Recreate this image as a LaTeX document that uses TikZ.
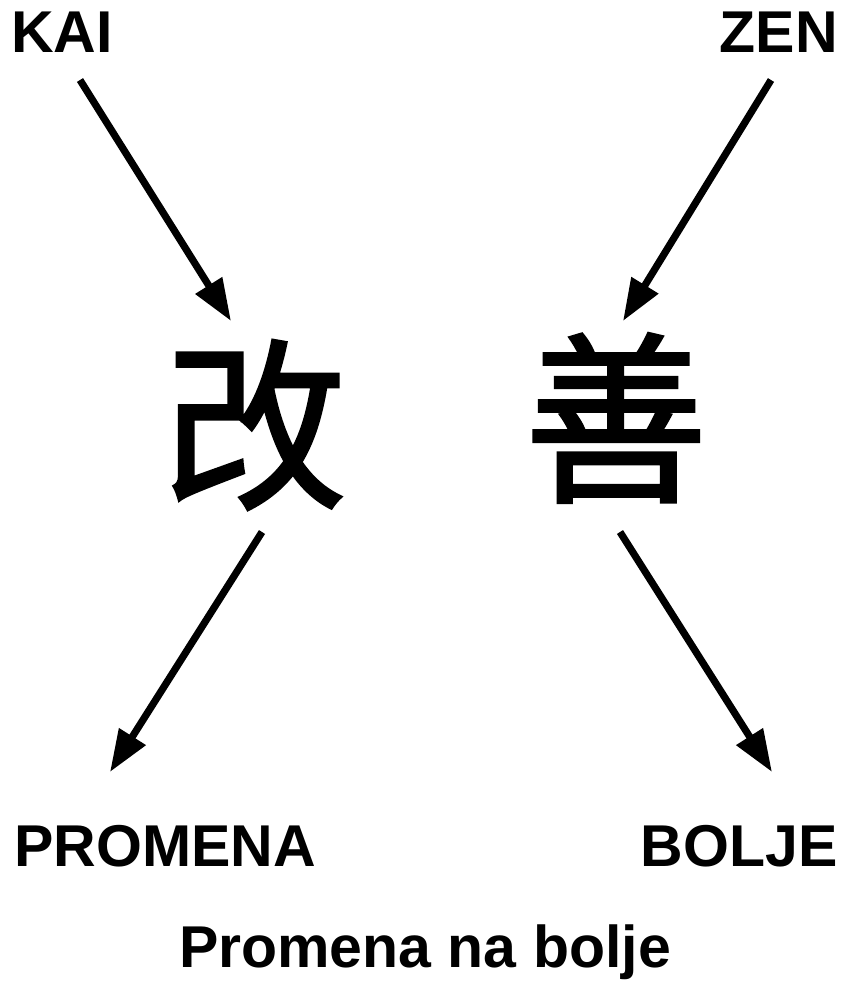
\documentclass[tikz,border=0pt]{standalone}
\usepackage{fontspec}
\setmainfont{Liberation Sans}
\newfontfamily\cjk[FakeBold=1.5]{Noto Sans CJK SC}
\usetikzlibrary{arrows.meta}
\colorlet{ink}{black}

\begin{document}
\begin{tikzpicture}[x=0.5pt,y=-0.5pt,
  word/.style={inner sep=0pt, font=\fontsize{29.5}{35}\selectfont\bfseries},
  glyph/.style={inner sep=0pt, font=\fontsize{92}{92}\selectfont\cjk},
  pointer/.style={draw=ink, line width=3.6pt, -{Triangle[length=21pt,width=15pt]}}]
\useasboundingbox (0,0) rectangle (846,981);
\node[word, anchor=base] (kai) at (62,52) {KAI};
\node[word, anchor=base east] (zen) at (838,52) {ZEN};
\node[glyph] (gai) at (255,425) {改};
\node[glyph] (shan) at (616,418) {善};
\node[word, anchor=base west] (promena) at (14,866) {PROMENA};
\node[word, anchor=base east] (bolje) at (838,866) {BOLJE};
\node[word, anchor=base] (title) at (425,967) {Promena na bolje};
\coordinate (kai-out) at (80,80);
\coordinate (zen-out) at (771,80);
\coordinate (gai-in) at (231,321);
\coordinate (shan-in) at (623,321);
\coordinate (gai-out) at (262,532);
\coordinate (shan-out) at (620,532);
\coordinate (promena-in) at (110,772);
\coordinate (bolje-in) at (772,772);
\draw[pointer] (kai-out) -- (gai-in);
\draw[pointer] (zen-out) -- (shan-in);
\draw[pointer] (gai-out) -- (promena-in);
\draw[pointer] (shan-out) -- (bolje-in);
\end{tikzpicture}
\end{document}
